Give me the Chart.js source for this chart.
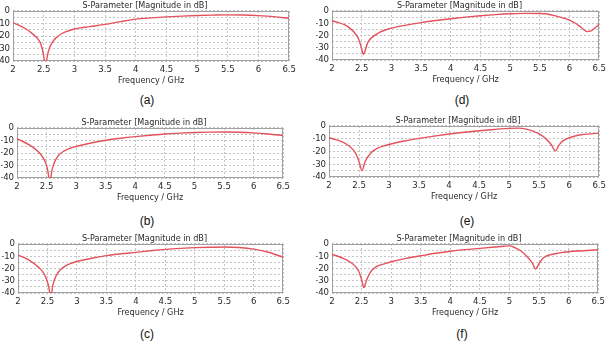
<!DOCTYPE html>
<html><head><meta charset="utf-8">
<script src="https://cdn.jsdelivr.net/npm/chart.js@4/dist/chart.umd.min.js"></script>
<style>
html,body{margin:0;padding:0;background:#fff;}
body{width:611px;height:341px;position:relative;overflow:hidden;}
canvas{position:absolute;}
.lbl{position:absolute;font:12px "Liberation Sans",Arial,sans-serif;color:#111;transform:translate(-50%,-50%);white-space:nowrap;}
</style></head><body>
<script>
// ---- text ----
const TITLE = 'S-Parameter [Magnitude in dB]';
const X_TITLE = 'Frequency / GHz';
const PANEL_LABELS = ['(a)', '(b)', '(c)', '(d)', '(e)', '(f)'];

// ---- axis ranges / ticks ----
const X_MIN = 2, X_MAX = 6.5, X_STEP = 0.5;
const Y_MIN = -40, Y_MAX = 0, Y_STEP = 5, Y_LABEL_STEP = 10;

// ---- data (frequency in GHz, |S11| in dB) ----
const freqA = [2.0,2.1,2.2,2.3,2.4,2.45,2.48,2.5,2.515,2.53,2.545,2.56,2.6,2.65,2.7,2.8,2.9,3.0,3.25,3.5,3.75,4.0,4.25,4.5,4.75,5.0,5.25,5.5,5.75,6.0,6.25,6.5];
const s11A  = [-9.3,-11.5,-14,-17.5,-22,-26,-31,-36,-42,-55,-42,-36,-29,-24.5,-21.5,-18,-16,-14.4,-12.5,-10.7,-8.5,-6.5,-5.5,-4.7,-4.1,-3.6,-3.3,-3.1,-3.2,-3.7,-4.5,-5.8];

const freqB = [2.0,2.1,2.2,2.3,2.4,2.45,2.5,2.53,2.545,2.555,2.565,2.58,2.62,2.7,2.8,2.9,3.0,3.25,3.5,3.75,4.0,4.25,4.5,4.75,5.0,5.25,5.5,5.75,6.0,6.25,6.5];
const s11B  = [-8.7,-10.8,-13.3,-16.5,-21,-24.5,-30,-37,-45,-55,-45,-37,-29,-22,-18.3,-16.2,-14.8,-12,-9.8,-8.2,-6.9,-5.8,-4.8,-4.1,-3.6,-3.3,-3.2,-3.4,-3.9,-4.8,-6.0];

const freqC = [2.0,2.1,2.2,2.3,2.4,2.45,2.5,2.53,2.545,2.555,2.565,2.58,2.62,2.7,2.8,2.9,3.0,3.25,3.5,3.75,4.0,4.25,4.5,4.75,5.0,5.25,5.5,5.75,6.0,6.25,6.5];
const s11C  = [-9,-11,-13.5,-17,-21.5,-25,-31,-37,-45,-55,-45,-37,-29,-22,-18,-15.8,-14.3,-11.6,-9.5,-8.0,-6.8,-5.5,-4.4,-3.6,-3.0,-2.6,-2.4,-2.9,-4.2,-6.7,-10.8];

const freqD = [2.0,2.1,2.2,2.3,2.4,2.45,2.5,2.53,2.56,2.6,2.7,2.8,2.9,3.0,3.25,3.5,3.75,4.0,4.25,4.5,4.75,5.0,5.25,5.5,5.6,5.75,5.9,6.0,6.1,6.2,6.3,6.35,6.4,6.5];
const s11D  = [-7.9,-9.3,-11,-14,-19,-23,-31,-35.5,-32,-26,-20.5,-17.5,-15.5,-14,-11.5,-9.5,-7.8,-6.3,-5.0,-3.9,-3.0,-2.3,-1.9,-2.0,-2.3,-3.8,-5.8,-7.5,-10,-13.5,-16.8,-16.5,-15,-10.8];

const freqE = [2.0,2.1,2.2,2.3,2.4,2.45,2.5,2.55,2.6,2.7,2.8,2.9,3.0,3.25,3.5,3.75,4.0,4.25,4.5,4.75,5.0,5.15,5.3,5.4,5.5,5.6,5.7,5.77,5.83,5.9,6.0,6.1,6.2,6.35,6.5];
const s11E  = [-9.2,-10.5,-12,-14.5,-18.5,-22,-28,-35,-28,-21,-17.5,-15.8,-14.5,-11.8,-9.7,-7.9,-6.3,-4.9,-3.7,-2.7,-1.9,-1.7,-2.6,-4,-6.2,-9.5,-14.5,-19.5,-15,-11.5,-9.2,-7.8,-6.9,-6.2,-5.6];

const freqF = [2.0,2.1,2.2,2.3,2.4,2.45,2.5,2.54,2.58,2.65,2.75,2.9,3.0,3.25,3.5,3.75,4.0,4.25,4.5,4.75,4.9,5.0,5.08,5.19,5.3,5.39,5.44,5.5,5.58,5.75,6.0,6.25,6.5];
const s11F  = [-8.5,-10,-12,-14.5,-18.5,-22,-29,-35.6,-30,-23,-18.5,-16,-14.5,-11.7,-9.6,-7.6,-5.9,-4.6,-3.6,-2.5,-1.8,-1.5,-2.7,-5.5,-10.4,-15.9,-20.5,-15.9,-11,-8.2,-6.3,-5.5,-4.7];

const SERIES_X = [freqA, freqB, freqC, freqD, freqE, freqF];
const SERIES_Y = [s11A, s11B, s11C, s11D, s11E, s11F];

// ---- layout (plot-area pixel boxes) ----
const PANEL_BOX = [
  {L:13,  R:293, T:11,  B:61,  lx:147, ly:100},
  {L:17,  R:287, T:128, B:178, lx:147, ly:221},
  {L:18,  R:287, T:244, B:293, lx:147, ly:334},
  {L:332, R:603, T:11,  B:60,  lx:462, ly:100},
  {L:329, R:603, T:126, B:177, lx:467, ly:221},
  {L:332, R:602, T:244, B:293, lx:462, ly:334}
];
const YAX_W = 16, XAX_H = 28, TOP_H = 12, RIGHT_PAD = 6;
const FONT = '"Liberation Sans Narrow","Arial Narrow","DejaVu Sans Condensed","Liberation Sans",sans-serif';
const LINE_COLOR = '#e4525c';
const GRID_COLOR = '#c4c4c4';
const TEXT_COLOR = '#2a2a2a';

Chart.defaults.font.family = FONT;
Chart.defaults.color = TEXT_COLOR;

const framePlugin = {
  id: 'frame',
  beforeDatasetsDraw(chart) {
    const a = chart.chartArea, c = chart.ctx;
    c.save();
    c.strokeStyle = '#a0a0a0';
    c.lineWidth = 1;
    c.strokeRect(Math.round(a.left) + 0.5, Math.round(a.top) + 0.5, Math.round(a.right - a.left) - 1, Math.round(a.bottom - a.top) - 1);
    c.restore();
  }
};

PANEL_BOX.forEach((b, i) => {
  const cv = document.createElement('canvas');
  const w = (b.R - b.L) + YAX_W + RIGHT_PAD;
  const h = (b.B - b.T) + TOP_H + XAX_H;
  cv.width = w; cv.height = h;
  cv.style.left = (b.L - YAX_W) + 'px';
  cv.style.top = (b.T - TOP_H) + 'px';
  cv.style.width = w + 'px'; cv.style.height = h + 'px';
  document.body.appendChild(cv);

  const pts = SERIES_X[i].map((x, k) => ({x: x, y: SERIES_Y[i][k]}));

  new Chart(cv, {
    type: 'line',
    data: { datasets: [{
      data: pts,
      borderColor: LINE_COLOR,
      borderWidth: 1.4,
      pointRadius: 0,
      fill: false,
      cubicInterpolationMode: 'monotone'
    }]},
    options: {
      responsive: false,
      animation: false,
      events: [],
      layout: { padding: { left: 0, right: RIGHT_PAD, top: 0, bottom: 0 } },
      plugins: {
        legend: { display: false },
        tooltip: { enabled: false },
        title: {
          display: true, text: TITLE, color: TEXT_COLOR,
          font: { size: 9, family: FONT, weight: 'normal', lineHeight: 1.2 },
          padding: { top: 1, bottom: 0.2 }
        }
      },
      scales: {
        x: {
          type: 'linear', min: X_MIN, max: X_MAX,
          afterFit(s) { s.height = XAX_H; },
          ticks: {
            stepSize: X_STEP, autoSkip: false, maxRotation: 0, padding: 3, color: TEXT_COLOR,
            font: { size: 9.5, family: FONT },
            callback: (v) => String(Math.round(v * 10) / 10)
          },
          grid: { color: GRID_COLOR, lineWidth: 1, drawTicks: false },
          border: { display: false, dash: [2, 2] },
          title: { display: true, text: X_TITLE, color: TEXT_COLOR, font: { size: 9, family: FONT, lineHeight: 1.2 }, padding: { top: 0, bottom: 2.6 } }
        },
        y: {
          type: 'linear', min: Y_MIN, max: Y_MAX,
          afterFit(s) { s.width = YAX_W; },
          ticks: {
            stepSize: Y_STEP, autoSkip: false, padding: 3, color: TEXT_COLOR,
            font: { size: 9.5, family: FONT },
            callback: (v) => (v % Y_LABEL_STEP === 0 ? String(v) : '')
          },
          grid: { color: GRID_COLOR, lineWidth: 1, drawTicks: false },
          border: { display: false, dash: [2, 2] }
        }
      }
    },
    plugins: [framePlugin]
  });

  const lab = document.createElement('div');
  lab.className = 'lbl';
  lab.textContent = PANEL_LABELS[i];
  lab.style.left = b.lx + 'px';
  lab.style.top = b.ly + 'px';
  document.body.appendChild(lab);
});
</script>
</body></html>
